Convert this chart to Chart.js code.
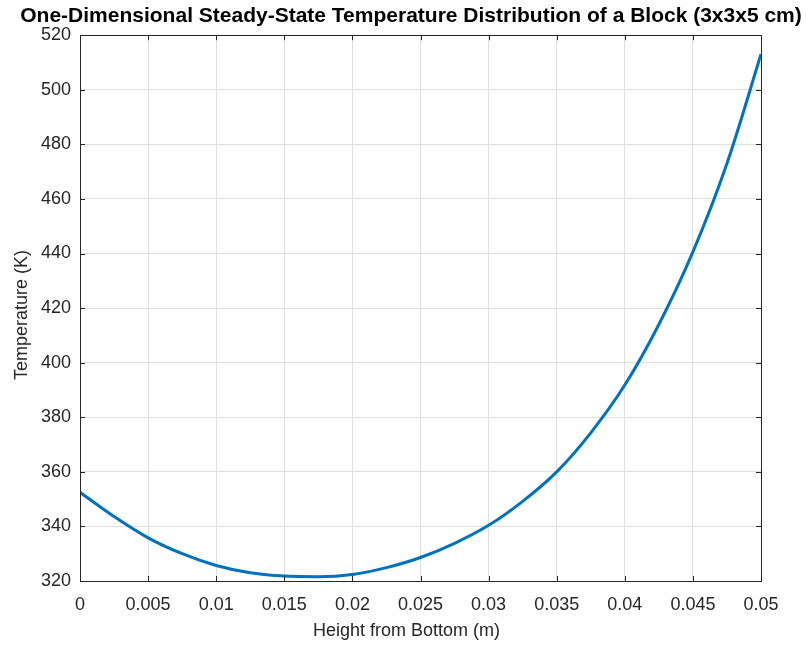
<!DOCTYPE html>
<html>
<head>
<meta charset="utf-8">
<script src="https://cdn.jsdelivr.net/npm/chart.js@4"></script>
<style>
  html, body { margin: 0; padding: 0; background: #fff; }
  #wrap { width: 806px; height: 646px; }
</style>
</head>
<body>
<div id="wrap"><canvas id="temp-chart" width="806" height="646"></canvas></div>
<script>
// Height along the block (m) and computed temperature (K)
const heights = [0, 0.0025, 0.005, 0.0075, 0.01, 0.0125, 0.015, 0.0175, 0.02, 0.0225, 0.025,
                 0.0275, 0.03, 0.0325, 0.035, 0.0375, 0.04, 0.0425, 0.045, 0.0475, 0.05];
const temperatures = [352.5, 343.6, 335.8, 330.0, 325.7, 323.0, 321.8, 321.6, 322.4, 324.9, 328.6,
                      333.8, 340.4, 349.2, 360.0, 374.3, 391.8, 414.0, 440.6, 473.0, 513.0];

// Axis ticks
const xTicks = [0, 0.005, 0.01, 0.015, 0.02, 0.025, 0.03, 0.035, 0.04, 0.045, 0.05];
const xTickLabels = ['0', '0.005', '0.01', '0.015', '0.02', '0.025', '0.03', '0.035', '0.04', '0.045', '0.05'];
const yTicks = [320, 340, 360, 380, 400, 420, 440, 460, 480, 500, 520];

const FONT = '"Liberation Sans", Arial, Helvetica, sans-serif';
const AXIS_COLOR = '#262626';

// Widen the title box so the long title is not clipped at the left edge,
// and nudge the axis titles a little off the axis centre
const titleBox = {
  id: 'titleBox',
  afterLayout(chart) {
    const tb = chart.titleBlock;
    if (tb) {
      tb.left = 0;
      tb.right = chart.width + 16;
    }
    const shift = { x: [-14, 0], y: [0, 7] };
    Object.keys(shift).forEach(id => {
      const scale = chart.scales[id];
      scale.drawTitle = function () {
        const c = this.ctx;
        c.save();
        c.translate(shift[id][0], shift[id][1]);
        Chart.Scale.prototype.drawTitle.call(this);
        c.restore();
      };
    });
  }
};

// Box around the axes plus short inward tick marks on all four sides
const axesBox = {
  id: 'axesBox',
  afterDatasetsDraw(chart) {
    const { ctx, chartArea: a, scales } = chart;
    const len = 5;
    ctx.save();
    ctx.strokeStyle = AXIS_COLOR;
    ctx.lineWidth = 1;
    ctx.beginPath();
    scales.x.ticks.forEach(t => {
      const px = Math.round(scales.x.getPixelForValue(t.value)) + 0.5;
      ctx.moveTo(px, a.bottom); ctx.lineTo(px, a.bottom - len);
      ctx.moveTo(px, a.top); ctx.lineTo(px, a.top + len);
    });
    scales.y.ticks.forEach(t => {
      const py = Math.round(scales.y.getPixelForValue(t.value)) + 0.5;
      ctx.moveTo(a.left, py); ctx.lineTo(a.left + len, py);
      ctx.moveTo(a.right, py); ctx.lineTo(a.right - len, py);
    });
    ctx.stroke();
    ctx.strokeRect(Math.round(a.left) + 0.5, Math.round(a.top) + 0.5,
                   Math.round(a.right - a.left), Math.round(a.bottom - a.top));
    ctx.restore();
  }
};

const ctx = document.getElementById('temp-chart').getContext('2d');
const tempChart = new Chart(ctx, {
  type: 'line',
  data: {
    datasets: [{
      data: heights.map((h, i) => ({ x: h, y: temperatures[i] })),
      borderColor: '#0072BD',
      borderWidth: 3,
      pointRadius: 0,
      fill: false,
      cubicInterpolationMode: 'monotone'
    }]
  },
  options: {
    responsive: false,
    animation: false,
    layout: { padding: { left: 0, right: 45, top: 0, bottom: 0 } },
    plugins: {
      legend: { display: false },
      tooltip: { enabled: false },
      title: {
        display: true,
        text: 'One-Dimensional Steady-State Temperature Distribution of a Block (3x3x5 cm)',
        color: '#000',
        font: { family: FONT, size: 21, weight: 'bold' },
        padding: { top: 4, bottom: 6 }
      }
    },
    scales: {
      x: {
        type: 'linear',
        min: 0,
        max: 0.05,
        afterBuildTicks: scale => { scale.ticks = xTicks.map(v => ({ value: v })); },
        afterFit: scale => { scale.height = 65; },
        ticks: {
          color: AXIS_COLOR,
          font: { family: FONT, size: 18 },
          padding: 13,
          maxRotation: 0,
          autoSkip: false,
          callback: (value, index) => xTickLabels[index]
        },
        grid: { color: '#dfdfdf', drawTicks: false },
        border: { display: false },
        title: {
          display: true,
          text: 'Height from Bottom (m)',
          color: AXIS_COLOR,
          font: { family: FONT, size: 18 },
          padding: { top: 4, bottom: 4 }
        }
      },
      y: {
        type: 'linear',
        min: 320,
        max: 520,
        afterBuildTicks: scale => { scale.ticks = yTicks.map(v => ({ value: v })); },
        afterFit: scale => { scale.width = 80; },
        ticks: {
          color: AXIS_COLOR,
          font: { family: FONT, size: 18 },
          padding: 9,
          autoSkip: false
        },
        grid: { color: '#dfdfdf', drawTicks: false },
        border: { display: false },
        title: {
          display: true,
          text: 'Temperature (K)',
          color: AXIS_COLOR,
          font: { family: FONT, size: 18 },
          padding: { top: 11, bottom: 11 }
        }
      }
    }
  },
  plugins: [titleBox, axesBox]
});
</script>
</body>
</html>
